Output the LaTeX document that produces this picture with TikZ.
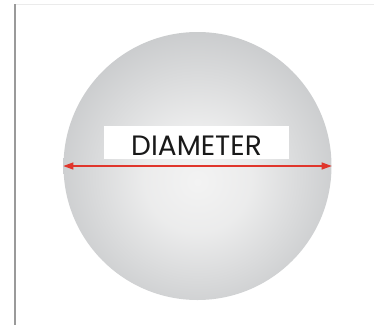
\documentclass[tikz,border=0pt]{standalone}
\usepackage{fontspec}
\setmainfont{Poppins}
\usepackage{tikz}
\usetikzlibrary{positioning, arrows.meta, calc}
\definecolor{balledge}{HTML}{A4A6A9}
\definecolor{ballmid}{HTML}{C0C2C4}
\definecolor{ballcore}{HTML}{F3F3F3}
\definecolor{dimred}{HTML}{E0362C}
\definecolor{frameline}{HTML}{9A9A9A}
\pgfdeclareradialshading{ballshade}{\pgfpoint{0bp}{-3bp}}{color(0bp)=(ballcore); color(10bp)=(ballcore!85!ballmid); color(32bp)=(ballmid); color(50bp)=(balledge)}

\begin{document}
\begin{tikzpicture}[
  x=1pt, y=-1pt,
  ball/.style={circle, minimum size=268pt, inner sep=0pt, shading=ballshade},
  tag/.style={fill=white, minimum width=185pt, text height=29pt, text depth=4pt, inner sep=0pt, font=\fontsize{28}{28}\selectfont, text=black!90},
  dimarr/.style={{Triangle[length=10pt, width=7pt]}-{Triangle[length=10pt, width=7pt]}, dimred, line width=1.2pt}
]
  \useasboundingbox (0,0) rectangle (374,327);
  % page frame
  \draw[black!8, line width=0.8pt] (15,4) -- (374,4);
  \draw[frameline, line width=1.5pt] (15,4) -- (15,325);

  \node[ball] (ball) at (197.5,166) {};
  \node[tag] (label) at (196.5,142.5) {DIAMETER};

  \draw[dimarr] (ball.west) -- (ball.east);
\end{tikzpicture}
\end{document}
